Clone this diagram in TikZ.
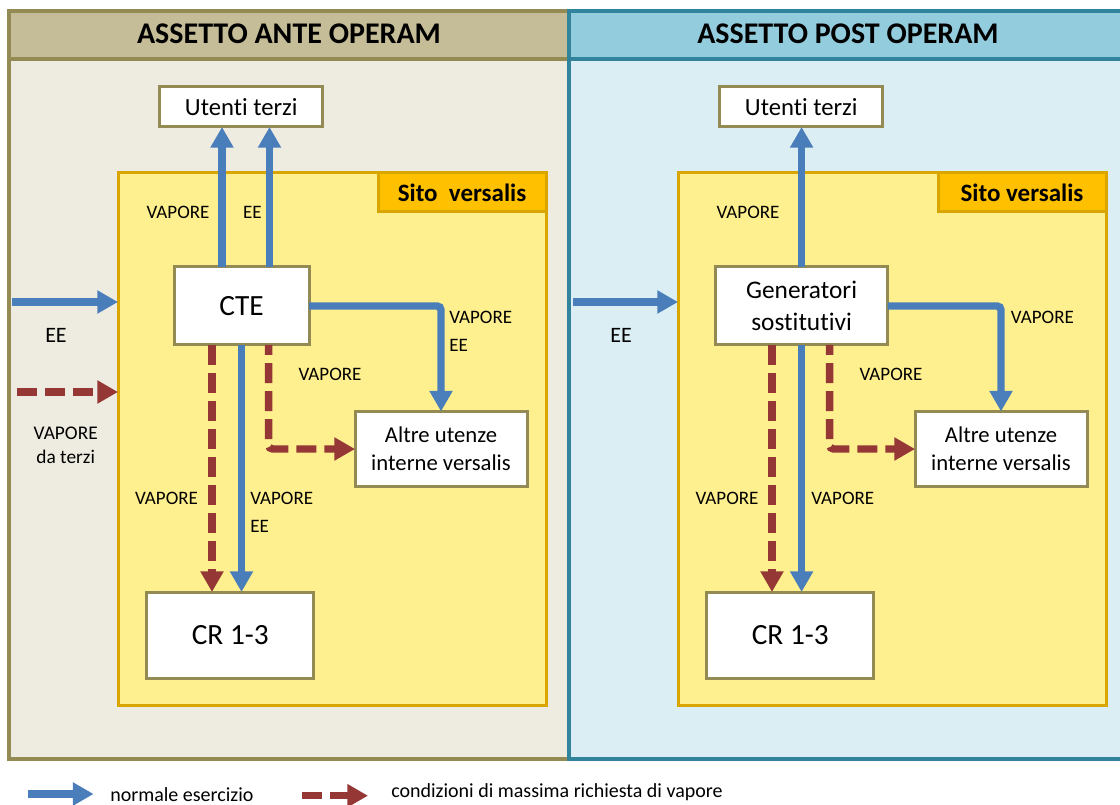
\documentclass[tikz,border=0pt]{standalone}
\usepackage{fontspec}
\setmainfont{Carlito}[Ligatures=CommonOff]
\usetikzlibrary{arrows.meta}
\definecolor{blu}{HTML}{4A7EBB}
\definecolor{rossa}{HTML}{953735}
\definecolor{oliva}{HTML}{948A54}
\definecolor{kaki}{HTML}{C4BD97}
\definecolor{beige}{HTML}{EEECE1}
\definecolor{azzh}{HTML}{93CDDD}
\definecolor{azzb}{HTML}{DBEEF3}
\definecolor{tealb}{HTML}{31849B}
\definecolor{gialla}{HTML}{FFF08F}
\definecolor{oro}{HTML}{D9A500}
\definecolor{arancio}{HTML}{FFC000}
\tikzset{
  box/.style={draw=oliva, line width=2.25pt, fill=white, inner sep=0pt, outer sep=0pt, align=center},
  sito/.style={draw=oro, line width=2.25pt, fill=gialla, inner sep=0pt, outer sep=0pt, minimum width=321pt, minimum height=399pt},
  sitolab/.style={draw=oro, line width=2.25pt, fill=arancio, inner sep=0pt, outer sep=0pt, minimum width=126pt, minimum height=29.25pt, anchor=north east, font=\fontsize{18.75}{22}\selectfont\bfseries},
  bl/.style={draw=blu, line width=5.6pt, -{Triangle[width=16.5pt,length=15.5pt]}},
  rd/.style={draw=rossa, line width=5.6pt, dash pattern=on 15pt off 6pt, -{Triangle[width=16.5pt,length=15.5pt]}},
  elbow/.style={dash phase=7.5pt, rounded corners=3pt},
  lab/.style={font=\fontsize{14.25}{17}\selectfont, inner sep=0pt},
  biglab/.style={font=\fontsize{16.5}{20}\selectfont, inner sep=0pt},
  title/.style={font=\fontsize{22.5}{27}\selectfont\bfseries, inner sep=0pt},
  leg/.style={font=\fontsize{15}{18}\selectfont, inner sep=0pt, anchor=west},
}
\begin{document}
\begin{tikzpicture}[x=0.75pt,y=-0.75pt]
\useasboundingbox (0,0) rectangle (1120,805);
\fill[white] (0,0) rectangle (1120,805);
% left panel
\fill[beige] (9,11) rectangle (569,759);
\fill[kaki] (9,11) rectangle (569,59);
\draw[oliva, line width=2.6pt] (9,59) -- (569,59);
\draw[oliva, line width=2.6pt] (9,11) rectangle (569,759);
% right panel
\fill[azzb] (569,11) rectangle (1124,759);
\fill[azzh] (569,11) rectangle (1124,59);
\draw[tealb, line width=2.6pt] (569,59) -- (1124,59);
\draw[tealb, line width=2.6pt] (569,11) rectangle (1124,759);

\node[title] (tL) at (289,34) {ASSETTO ANTE OPERAM};
\node[title] (tR) at (848,34) {ASSETTO POST OPERAM};

% ---------- left ----------
\node[sito] (sitoL) at (332,439) {};
\node[sitolab] (slL) at (sitoL.north east) {Sito~ versalis};
\node[box, minimum width=121.9pt, minimum height=30pt, font=\fontsize{18.5}{22}\selectfont] (utL) at (241.25,107) {Utenti terzi};
\node[box, minimum width=101.25pt, minimum height=58.5pt, font=\fontsize{22}{26}\selectfont] (cte) at (241.5,306) {CTE};
\node[box, minimum width=129pt, minimum height=56.25pt, font=\fontsize{17}{21}\selectfont] (altL) at (441,449) {Altre utenze\\interne versalis};
\node[box, minimum width=125pt, minimum height=64.5pt, font=\fontsize{22}{26}\selectfont] (crL) at (230.3,635) {CR 1-3};

\coordinate (aL1) at (222,0);
\coordinate (aL2) at (269.5,0);
\coordinate (rL1) at (212,0);
\coordinate (rL2) at (268.6,0);
\coordinate (eeL) at (12,302);
\coordinate (vdL) at (17,392);

\draw[bl] (cte.north -| aL1) -- (utL.south -| aL1);
\draw[bl] (cte.north -| aL2) -- (utL.south -| aL2);
\draw[bl] (eeL) -- (eeL -| sitoL.west);
\draw[rd] (vdL) -- (vdL -| sitoL.west);
\draw[bl, rounded corners=3pt] (cte.east) -| (altL.north);
\draw[rd, elbow] (cte.south -| rL2) |- (altL.west);
\draw[rd] (cte.south -| rL1) -- (crL.north -| rL1);
\draw[bl] (cte.south) -- (crL.north -| cte.south);

\node[lab] (l1) at (178,212) {VAPORE};
\node[lab] (l2) at (252.5,212) {EE};
\node[lab, anchor=west] (l3) at (449,317) {VAPORE};
\node[lab, anchor=west] (l4) at (449,345) {EE};
\node[lab] (l5) at (330,374) {VAPORE};
\node[lab] (l6) at (166.5,498) {VAPORE};
\node[lab, anchor=west] (l7) at (250,498) {VAPORE};
\node[lab, anchor=west] (l8) at (250,526) {EE};
\node[biglab] (l9) at (56,335) {EE};
\node[lab, font=\fontsize{14.5}{18}\selectfont, align=center] (l10) at (65.7,445) {VAPORE\\da terzi};

% ---------- right ----------
\node[sito] (sitoR) at (892,439) {};
\node[sitolab] (slR) at (sitoR.north east) {Sito versalis};
\node[box, minimum width=121.9pt, minimum height=30pt, font=\fontsize{18.5}{22}\selectfont] (utR) at (801.25,107) {Utenti terzi};
\node[box, minimum width=129pt, minimum height=58.5pt, font=\fontsize{19}{23.5}\selectfont] (gen) at (801.6,306) {Generatori\\sostitutivi};
\node[box, minimum width=129pt, minimum height=56.25pt, font=\fontsize{17}{21}\selectfont] (altR) at (1001,449) {Altre utenze\\interne versalis};
\node[box, minimum width=125pt, minimum height=64.5pt, font=\fontsize{22}{26}\selectfont] (crR) at (790.3,635) {CR 1-3};

\coordinate (rR1) at (772,0);
\coordinate (rR2) at (829.6,0);
\coordinate (eeR) at (573,302);

\draw[bl] (gen.north) -- (utR.south -| gen.north);
\draw[bl] (eeR) -- (eeR -| sitoR.west);
\draw[bl, rounded corners=3pt] (gen.east) -| (altR.north);
\draw[rd, elbow] (gen.south -| rR2) |- (altR.west);
\draw[rd] (gen.south -| rR1) -- (crR.north -| rR1);
\draw[bl] (gen.south) -- (crR.north -| gen.south);

\node[lab] (r1) at (748,212) {VAPORE};
\node[lab, anchor=west] (r3) at (1010.7,317) {VAPORE};
\node[lab] (r5) at (891,374) {VAPORE};
\node[lab] (r6) at (727,498) {VAPORE};
\node[lab, anchor=west] (r7) at (811,498) {VAPORE};
\node[biglab] (r9) at (621,335) {EE};

% ---------- legend ----------
\coordinate (g1a) at (27.5,794);
\coordinate (g1b) at (93.6,794);
\coordinate (g2a) at (302,795.7);
\coordinate (g2b) at (368,795.7);
\draw[bl] (g1a) -- (g1b);
\draw[rd] (g2a) -- (g2b);
\node[leg] (t1) at (110,795) {normale esercizio};
\node[leg] (t2) at (391,791.7) {condizioni di massima richiesta di vapore};
\end{tikzpicture}
\end{document}
